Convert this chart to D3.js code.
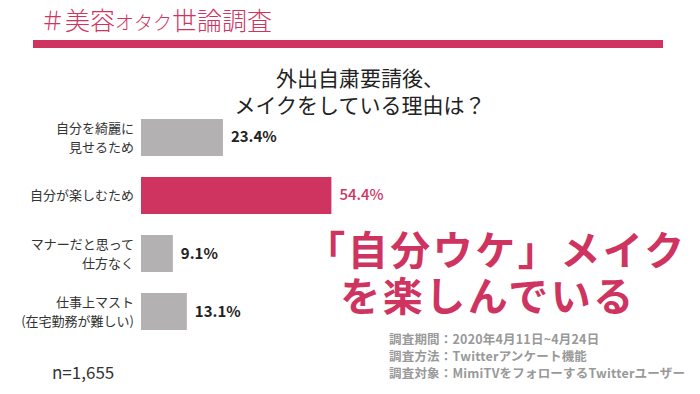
<!DOCTYPE html>
<html><head><meta charset="utf-8">
<script src="https://cdn.jsdelivr.net/npm/d3@7"></script>
<style>body{margin:0;background:#fff}svg{display:block}</style>
</head><body><svg id="c" width="700" height="394"></svg>
<script>
const categories = [["自分を綺麗に","見せるため"],["自分が楽しむため"],["マナーだと思って","仕方なく"],["仕事上マスト","(在宅勤務が難しい)"]];
const values = [23.4, 54.4, 9.1, 13.1];
const highlight = [false, true, false, false];
const titleLines = ["外出自粛要請後、","メイクをしている理由は？"];
const headline = ["「自分ウケ」メイク","を楽しんでいる"];
const notes = ["調査期間：2020年4月11日~4月24日","調査方法：Twitterアンケート機能","調査対象：MimiTVをフォローするTwitterユーザー"];
const sampleLabel = "n=1,655";

const pink = "#cf3461", gray = "#b3b1b2";
const font = "'Noto Sans CJK JP','Noto Sans',sans-serif";
const svg = d3.select("#c").style("font-family", font);

// header
const h = svg.append("text").attr("x", 40).attr("y", 30).attr("fill", pink)
  .attr("font-size", 25).attr("font-weight", 300);
h.append("tspan").text("＃美容");
h.append("tspan").attr("font-size", 19).text("オタク");
h.append("tspan").text("世論調査");
svg.append("rect").attr("x", 33).attr("y", 40).attr("width", 630).attr("height", 8).attr("fill", pink);

// title
svg.selectAll("text.title").data(titleLines).join("text").attr("class","title")
  .attr("x", 360).attr("y", (d,i)=>86+i*27).attr("text-anchor","middle")
  .attr("font-size", 21).attr("fill","#222").text(d=>d);

// scales
const x = d3.scaleLinear().domain([0, 60]).range([141, 141 + 60*3.5]);
const yb = d3.scaleBand().domain(d3.range(values.length)).range([98, 351]).padding(0.362);

svg.selectAll("rect.bar").data(values).join("rect").attr("class","bar")
  .attr("x", x(0)).attr("y", (d,i)=>yb(i)).attr("width", d=>x(d)-x(0)).attr("height", yb.bandwidth())
  .attr("fill", (d,i)=>highlight[i]?pink:gray);

svg.selectAll("text.val").data(values).join("text").attr("class","val")
  .attr("x", d=>x(d)+8).attr("y", (d,i)=>yb(i)+yb.bandwidth()/2+5)
  .attr("font-size", 15).attr("font-weight", (d,i)=>highlight[i]?500:700)
  .attr("fill", (d,i)=>highlight[i]?pink:"#222").text(d=>d.toFixed(1)+"%");

categories.forEach((lines,i)=>{
  const cy = yb(i)+yb.bandwidth()/2;
  const t = svg.append("text").attr("text-anchor","end").attr("font-size", 13).attr("fill","#333");
  lines.forEach((l,j)=>{
    t.append("tspan").attr("x", 134).attr("y", cy + 5 + (j - (lines.length-1)/2)*19).text(l);
  });
});

// headline
svg.selectAll("text.head").data(headline).join("text").attr("class","head")
  .attr("x", (d,i)=>i===0?496:488).attr("y",(d,i)=>i===0?265:311).attr("text-anchor","middle")
  .attr("font-size", 40).attr("font-weight", 700).attr("letter-spacing", 2.5).attr("fill", pink).text(d=>d);

// notes
svg.selectAll("text.note").data(notes).join("text").attr("class","note")
  .attr("x", 389).attr("y",(d,i)=>344+i*17).attr("font-size", 12.5).attr("font-weight", 700)
  .attr("letter-spacing", 0.2).attr("fill","#999").text(d=>d);

svg.append("text").attr("x", 52).attr("y", 379).attr("font-size", 17).attr("fill","#333").text(sampleLabel);
</script></body></html>
